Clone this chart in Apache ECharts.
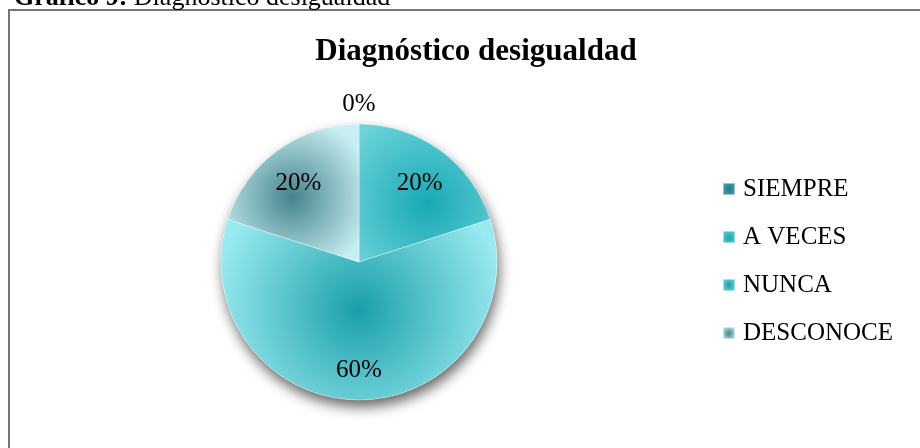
<!DOCTYPE html>
<html>
<head>
<meta charset="utf-8">
<script src="https://cdn.jsdelivr.net/npm/echarts@6/dist/echarts.min.js"></script>
<style>
  html, body { margin: 0; padding: 0; background: #fff; }
  #mainChart { width: 920px; height: 448px; }
</style>
</head>
<body>
<div id="mainChart"></div>
<script>
// datos del gráfico
var categorias = ['SIEMPRE', 'A VECES', 'NUNCA', 'DESCONOCE'];
var porcentajes = [0, 20, 60, 20];

// degradados de cada porción: [x, y, r, color centro, color borde]
var degradados = [
	[0.5, 0.5, 0.7, '#137f88', '#5da9b0'],
	[0.52, 0.57, 0.72, '#18a9b3', '#6cd3db'],
	[0.5, 0.5, 0.8, '#1a9fa9', '#98e9f0'],
	[0.49, 0.53, 0.62, '#46838c', '#c8f0f4']
];

function radial(g) {
	return new echarts.graphic.RadialGradient(g[0], g[1], g[2], [
		{ offset: 0, color: g[3] },
		{ offset: 1, color: g[4] }
	]);
}

var cx = 359, cy = 262, R = 138;
var fuente = '"Liberation Serif", "Times New Roman", serif';

var datos = [], datosEtiq = [], datosCero = [];
for (var i = 0; i < categorias.length; i++) {
	datos.push({ name: categorias[i], value: porcentajes[i], itemStyle: { color: radial(degradados[i]) } });
	datosEtiq.push({ name: categorias[i], value: porcentajes[i], label: { show: porcentajes[i] > 0 } });
	datosCero.push({ name: categorias[i], value: porcentajes[i], label: { show: porcentajes[i] === 0 } });
}
var total = porcentajes.reduce(function (a, b) { return a + b; }, 0);

var estiloEtiq = {
	p: { fontFamily: fuente, fontSize: 25, color: '#000', padding: [10, 0, 0, 0] }
};

var myChart = echarts.init(document.getElementById('mainChart'));
var option = {
	backgroundColor: '#ffffff',
	animation: false,
	title: [{
		text: 'Diagnóstico desigualdad',
		left: 471,
		textAlign: 'center',
		top: 31,
		textStyle: { fontFamily: fuente, fontSize: 31, fontWeight: 'bold', color: '#000' }
	}, {
		text: '{b|Gráfico 9:} {n|Diagnóstico desigualdad}',
		left: 9,
		top: -20,
		textStyle: {
			fontFamily: fuente, fontSize: 26, fontWeight: 'normal', color: '#000',
			rich: {
				b: { fontFamily: fuente, fontSize: 26, fontWeight: 'bold', color: '#000' },
				n: { fontFamily: fuente, fontSize: 26, fontWeight: 'normal', color: '#000' }
			}
		}
	}],
	graphic: [{
		type: 'rect',
		shape: { x: 9, y: 10, width: 1000, height: 600 },
		style: { fill: 'none', stroke: '#767676', lineWidth: 2 },
		silent: true
	}],
	legend: {
		orient: 'vertical',
		left: 722,
		top: 176,
		padding: 0,
		itemWidth: 12,
		itemHeight: 12,
		itemGap: 22,
		icon: 'rect',
		data: categorias,
		textStyle: { fontFamily: fuente, fontSize: 25, color: '#000', lineHeight: 24, padding: [2, 0, 0, 3] }
	},
	series: [{
		// sombra bajo el círculo
		type: 'pie',
		name: 'sombra',
		silent: true,
		center: [cx, cy],
		radius: R,
		label: { show: false },
		labelLine: { show: false },
		itemStyle: {
			color: '#ffffff',
			shadowBlur: 13,
			shadowColor: 'rgba(0,0,0,0.6)',
			shadowOffsetX: 2,
			shadowOffsetY: 7
		},
		data: [{ name: 'total', value: total }]
	}, {
		type: 'pie',
		name: 'category',
		center: [cx, cy],
		radius: R,
		startAngle: 90,
		label: { show: false },
		labelLine: { show: false },
		itemStyle: { borderColor: 'rgba(255,255,255,0.45)', borderWidth: 0.8 },
		emphasis: { disabled: true },
		data: datos
	}, {
		type: 'pie',
		name: 'etiquetas',
		silent: true,
		center: [cx, cy],
		radius: [62, R],
		startAngle: 90,
		itemStyle: { color: 'transparent' },
		avoidLabelOverlap: false,
		label: {
			position: 'inside',
			formatter: '{p|{d}%}',
			rich: estiloEtiq
		},
		labelLine: { show: false },
		data: datosEtiq
	}, {
		type: 'pie',
		name: 'cero',
		silent: true,
		center: [cx, cy],
		radius: [146, 174],
		startAngle: 90,
		itemStyle: { color: 'transparent' },
		avoidLabelOverlap: false,
		label: {
			position: 'inside',
			formatter: '{p|{c}%}',
			rich: estiloEtiq
		},
		labelLine: { show: false },
		data: datosCero
	}]
};
myChart.setOption(option, true);
</script>
</body>
</html>
